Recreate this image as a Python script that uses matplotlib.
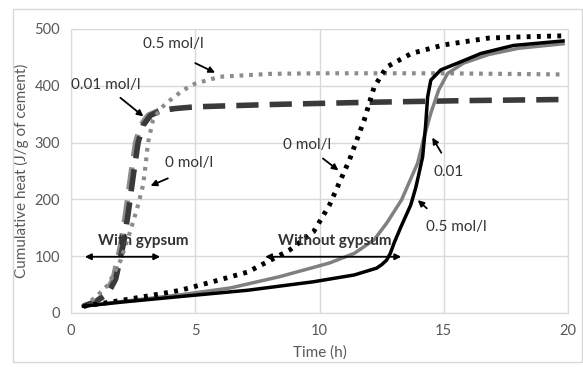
import matplotlib
matplotlib.use("Agg")
from matplotlib import pyplot as plt
from matplotlib.patches import Rectangle

plt.rcParams['font.family'] = ['Lato', 'DejaVu Sans']

# with gypsum
t_g05 = [0.5, 1, 1.5, 2, 2.4, 2.7, 2.9, 3.0, 3.1, 3.3, 3.6, 4.0, 4.5, 5, 6, 8, 10, 15, 19.8]
q_g05 = [12, 28, 50, 93, 146, 190, 225, 260, 300, 340, 360, 375, 392, 404, 416, 421, 422, 422, 420]
t_g001 = [0.5, 1.0, 1.5, 1.8, 2.1, 2.3, 2.5, 2.7, 2.9, 3.2, 3.6, 4.2, 5, 8, 12, 16, 20]
q_g001 = [12, 20, 35, 60, 120, 175, 240, 300, 330, 348, 356, 360, 363, 367, 371, 374, 376]
t_g0 = [0.5, 1.0, 1.4, 1.7, 2.0, 2.2, 2.4, 2.6, 2.8, 3.1, 3.5, 4.1]
q_g0 = [12, 20, 35, 60, 120, 175, 240, 300, 330, 348, 356, 360]

# without gypsum
t_n0 = [0.5, 2, 3.5, 4.4, 5.7, 7.1, 7.9, 8.8, 9.76, 10.4, 11.2, 11.8, 12.2, 12.7, 13.7, 15, 16.8, 18, 19.8]
q_n0 = [12, 22, 33, 40, 55, 72, 90, 111, 143, 190, 269, 340, 398, 433, 457, 472, 484, 486, 488]
t_n001 = [0.5, 2, 4.4, 6.4, 8.4, 10.4, 11.4, 12.2, 12.7, 13.3, 13.95, 14.2, 14.48, 14.8, 15.16, 15.8, 16.8, 18, 19.8]
q_n001 = [12, 20, 32, 44, 64, 88, 105, 129, 158, 199, 264, 308, 352, 393, 422, 440, 455, 466, 474]
t_n05 = [0.5, 2, 4.4, 7.1, 9.76, 11.4, 12.3, 12.5, 12.7, 12.85, 13.0, 13.27, 13.67, 13.87, 14.0, 14.15,
         14.27, 14.35, 14.48, 14.88, 15.56, 16.5, 17.8, 19.8]
q_n05 = [12, 19, 29, 40, 55, 67, 79, 85, 93, 105, 123, 151, 190, 220, 245, 275,
         330, 380, 410, 428, 440, 457, 471, 479]

fig = plt.figure(figsize=(5.83, 3.67), dpi=100)
fig.patches.append(Rectangle((13/583, 5/367), 569/583, 353/367, transform=fig.transFigure,
                             fill=False, edgecolor='#d9d9d9', linewidth=1))
ax = fig.add_axes([71/583, 1 - 313/367, 497/583, 284/367])

ax.plot(t_g0, q_g0, color='#8c8c8c', linewidth=4, dashes=(4, 2))
ax.plot(t_g001, q_g001, color='#3a3a3a', linewidth=4, dashes=(4, 2))
ax.plot(t_g05, q_g05, color='#8c8c8c', linewidth=3, linestyle=(0, (0.9, 1.4)))
ax.plot(t_n001, q_n001, color='#808080', linewidth=2.5)
ax.plot(t_n05, q_n05, color='black', linewidth=2.5)
ax.plot(t_n0, q_n0, color='black', linewidth=3.5, linestyle=(0, (0.8, 1.3)))

ax.set_xlim(0, 20)
ax.set_ylim(0, 500)
ax.set_xticks([0, 5, 10, 15, 20])
ax.set_yticks([0, 100, 200, 300, 400, 500])
ax.grid(True, color='#d9d9d9', linewidth=1)
ax.set_axisbelow(True)
ax.tick_params(length=0, labelsize=10.5, labelcolor='#595959', pad=8)
for s in ax.spines.values():
    s.set_color('#d9d9d9')
ax.set_xlabel('Time (h)', fontsize=11, color='#595959', labelpad=5)
ax.set_ylabel('Cumulative heat (J/g of cement)', fontsize=11, color='#595959', labelpad=4)

arr = dict(arrowstyle='-|>', color='black', linewidth=1.3, mutation_scale=9)
txt = dict(fontsize=11, color='#333333', ha='center', va='center')

ax.annotate('', xy=(5.9, 421), xytext=(4.9, 442), arrowprops=arr)
ax.text(4.1, 474, '0.5 mol/l', **txt)
ax.annotate('', xy=(3.0, 343), xytext=(1.9, 382), arrowprops=arr)
ax.text(1.4, 401, '0.01 mol/l', **txt)
ax.annotate('', xy=(3.1, 222), xytext=(4.0, 239), arrowprops=arr)
ax.text(4.75, 264, '0 mol/l', **txt)

ax.annotate('', xy=(10.85, 248), xytext=(10.05, 275), arrowprops=arr)
ax.text(9.5, 296, '0 mol/l', **txt)
ax.annotate('', xy=(14.48, 313), xytext=(14.96, 278), arrowprops=arr)
ax.text(15.2, 248, '0.01', **txt)
ax.annotate('', xy=(13.87, 202), xytext=(14.4, 181), arrowprops=arr)
ax.text(15.5, 151, '0.5 mol/l', **txt)

dbl = dict(arrowstyle='<|-|>', color='black', linewidth=1.3, mutation_scale=9)
ax.annotate('', xy=(0.45, 99), xytext=(3.7, 99), arrowprops=dbl)
ax.text(2.9, 126, 'With gypsum', fontsize=11, fontweight='bold', color='#333333',
        ha='center', va='center')
ax.annotate('', xy=(7.7, 99), xytext=(13.4, 99), arrowprops=dbl)
ax.text(10.6, 126, 'Without gypsum', fontsize=11, fontweight='bold', color='#333333',
        ha='center', va='center')

fig.savefig('out.png', dpi=100)
